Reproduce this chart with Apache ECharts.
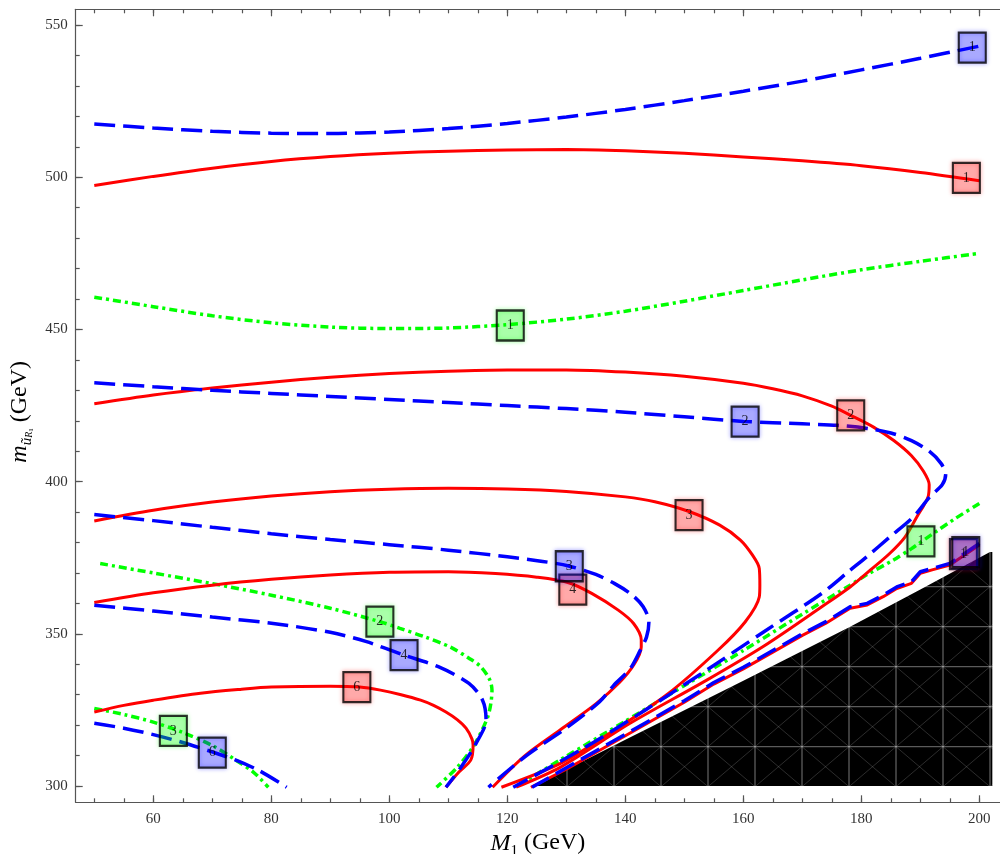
<!DOCTYPE html>
<html><head><meta charset="utf-8">
<script src="https://cdn.jsdelivr.net/npm/echarts@6/dist/echarts.min.js"></script>
<style>html,body{margin:0;padding:0;background:#fff}#c{width:1000px;height:854px}</style>
</head><body><div id="c"></div>
<script>
// ---- tick values ----
const xMajorTicks = [60, 80, 100, 120, 140, 160, 180, 200];
const xMinorTicks = [50, 55, 60, 65, 70, 75, 80, 85, 90, 95, 100, 105, 110, 115, 120, 125, 130, 135, 140, 145, 150, 155, 160, 165, 170, 175, 180, 185, 190, 195, 200];
const yMajorTicks = [300, 350, 400, 450, 500, 550];
const yMinorTicks = [300, 310, 320, 330, 340, 350, 360, 370, 380, 390, 400, 410, 420, 430, 440, 450, 460, 470, 480, 490, 500, 510, 520, 530, 540, 550];

// ---- red contours (solid) ----
const redLevel1 = [[50,497.3],[60,500.3],[70,503],[80,505.2],[90,506.8],[100,507.9],[110,508.6],[120,509],[130,509.1],[140,508.7],[150,507.9],[160,506.7],[170,505.4],[180,503.8],[190,501.6],[200,498.9]];
const redLevel2 = [[50,425.6],[60,428.5],[70,430.8],[80,432.7],[90,434.3],[100,435.5],[110,436.3],[120,436.7],[130,436.7],[140,436],[150,434.6],[160,432.3],[165,430.5],[170,428.2],[175,424.8],[178.2,421.8],[182,418],[185.5,413.5],[188.5,408.5],[190.5,403.5],[191.5,399],[191.3,395],[189.4,388.4],[187.4,381.8],[184.8,376.4],[181.5,370.9],[178.1,365.4],[173.3,358.9],[163.5,346],[153.8,334.8],[140.8,320.6],[129.1,306.3],[121.5,299.6]];
const redLevel3 = [[50,387.1],[60,390.6],[70,393.3],[80,395.3],[90,396.7],[100,397.5],[110,397.8],[120,397.6],[130,396.8],[140,395],[145,393.4],[150.8,390.2],[156,385.7],[159.5,380.8],[161.5,376],[162.7,371.5],[162.8,366],[162.7,362.1],[160.3,353.9],[155.7,344.6],[147.3,330.4],[138.2,318.4],[129.1,307.5],[119,299.6]];
const redLevel4 = [[50,360.3],[60,363.5],[70,366],[80,367.9],[90,369.3],[100,370.2],[110,370.4],[118,369.8],[125,368.6],[130.4,366.8],[134.3,363.3],[138.8,357.8],[141.4,353.4],[142.7,348],[142.7,345.7],[141.5,340],[139,334],[135,327],[129,318.5],[123,310],[117.5,299.6]];
const redLevel6 = [[50,324.3],[55,326.5],[60,328.2],[68,330.5],[75,331.8],[80,332.5],[90,332.8],[95,332.5],[98.5,331.5],[102,330],[105.3,328.2],[107.5,326.5],[109.6,324.3],[111.5,321.8],[113,319],[114,315.5],[114.2,313.4],[113.8,308.5],[111.8,304.6],[109.6,299.6]];
const redLevel1Low = [[200,379.2],[195,372.6],[192,371],[190,369.9],[188.5,366.6],[186,364.9],[183.7,362.2],[181,359.5],[178.1,358.4],[174,353.5],[170,349.5],[165,344],[160,338.5],[155,333.5],[150,327.5],[145,322],[140,316.5],[135,311],[130,305.5],[124,299.6]];

// ---- blue contours (dashed) ----
const blueLevel1 = [[50,517.5],[60,516.2],[70,515.1],[80,514.5],[90,514.4],[100,514.9],[110,516],[120,517.7],[130,519.8],[140,522.3],[150,525.2],[160,528.3],[170,531.6],[180,535.3],[190,539.1],[200,543.1]];
const blueLevel2 = [[50,432.5],[60,431.2],[70,430],[80,429],[90,428],[100,427],[110,426],[120,425],[130,424],[140,422.8],[150,421.3],[160,419.8],[170,419],[176,418.5],[181,417.5],[185,416],[188.5,413.5],[191.5,410],[193.5,406],[194.3,402.5],[193.7,399],[191.6,395],[188.8,388.4],[184.8,381.8],[180.9,375.3],[178.1,370.9],[173.3,363.3],[163.5,350.7],[153.8,338.1],[143.4,325],[133,312.5],[121,299.6]];
const blueLevel3 = [[50,389.2],[60,387.2],[70,385],[80,382.9],[90,381],[100,379.3],[110,377.5],[120,375.3],[126,373.8],[130.4,372.3],[135,369.5],[138.2,366.5],[141,363],[143,359],[144,354],[143.6,349],[142.5,344.5],[140.8,338.5],[138,333],[135.6,327.6],[129.8,318.8],[123.3,310.1],[116.8,299.6]];
const blueLevel4 = [[50,359.4],[60,357.5],[70,355.5],[80,353.5],[90,350.5],[96,347.5],[102.5,343],[108.3,339.2],[113.5,333.7],[115.8,328.2],[116.4,321.7],[114.7,314],[112.2,306.3],[109.6,299.6]];
const blueLevel6 = [[50,320.6],[55,319],[60,316.9],[65,314.3],[70,311.2],[74,308.5],[78,305],[82.6,299.6]];
const blueLevel1Low = [[200,379.7],[195,373.1],[192,371.5],[190,370.4],[188.5,367.1],[186,365.4],[183.7,362.7],[181,360],[178.1,358.9],[174,354],[170,350],[165,344.5],[160,339],[155,334],[150,328],[145,322.5],[140,317],[135,311.5],[130,306],[124.2,299.6]];

// ---- green contours (dash-dot) ----
const greenLevel1 = [[50,460.6],[60,457.5],[70,454.5],[80,452.2],[90,450.8],[100,450.3],[110,450.5],[120,451.6],[130,453.4],[140,456],[150,459.3],[160,462.8],[170,466.3],[180,469.6],[190,472.4],[200,475]];
const greenLevel1Low = [[200,392.8],[196,388],[192.2,383],[188.5,378],[185.4,374.2],[181,369.5],[178.1,366],[170,356.5],[160,344.5],[150,333],[140,321.3],[130,309.8],[121.3,299.6]];
const greenLevel2 = [[51,373.1],[60,370],[70,366.5],[80,362.7],[90,358.4],[98.4,354],[101.8,351.8],[106,349],[110.3,345.7],[113.5,342],[115.5,339.2],[117,335],[117.4,331.5],[117.2,327],[116.7,322.8],[115.5,317.5],[114.2,312.9],[111.6,306.3],[108,299.6]];
const greenLevel3 = [[50,325.5],[55,323.5],[60,321],[65,317.6],[70,313.3],[74,308.5],[77,304.5],[79.5,299.6]];

// ---- excluded region edge ----
const blackRegionEdge = [[124.5,300],[140,315.2],[160,334.6],[178.1,352.3],[190,364.6],[201.8,376.9],[202.2,376.9]];

// ---- contour labels [x, y, text] ----
const redLabels = [[197.8,499.8,'1'],[178.2,421.8,'2'],[150.8,389,'3'],[131.1,364.5,'4'],[94.5,332.5,'6'],[197.3,376.2,'1']];
const blueLabels = [[198.8,542.6,'1'],[160.3,419.7,'2'],[130.5,372.2,'3'],[102.5,343,'4'],[70,311,'6'],[197.7,376.8,'1']];
const greenLabels = [[120.5,451.3,'1'],[98.4,354,'2'],[63.4,318.1,'3'],[190.1,380.4,'1']];

// ---- build ----
const SERIF = 'Liberation Serif';
const styles = {
  red:   {color:'#ff0000', width:3, type:'solid'},
  blue:  {color:'#0000ff', width:3.5, type:[21,8]},
  green: {color:'#00ff00', width:3.5, type:[8,4,3,4]}
};
function contour(data, kind, smooth) {
  return {type:'line', data:data, symbol:'none', smooth: smooth === undefined ? 0.3 : smooth,
    lineStyle:{color:styles[kind].color, width:styles[kind].width, type:styles[kind].type, cap:'butt'},
    xAxisIndex:0, yAxisIndex:0, z:3, silent:true, animation:false};
}
function labelBoxes(data, fill, halo) {
  return {type:'scatter', data:data, symbol:'rect', symbolSize:[27,30], xAxisIndex:0, yAxisIndex:0, z:5, animation:false,
    itemStyle:{color:fill, borderColor:'#000', borderWidth:2.2, shadowColor:halo, shadowBlur:4},
    label:{show:true, position:'inside', formatter:(p)=>p.data[2], color:'#000', fontFamily:SERIF, fontSize:14}};
}

// mesh pattern for excluded region
const pat = document.createElement('canvas');
pat.width = 47; pat.height = 40;
const g = pat.getContext('2d');
g.fillStyle = '#000'; g.fillRect(0,0,47,40);
g.strokeStyle = 'rgba(255,255,255,0.22)'; g.lineWidth = 0.8;
for (const dx of [-47,0,47]) for (const dy of [-40,0,40]) {
  g.beginPath();
  g.moveTo(3+dx, 26.7+dy); g.lineTo(50+dx, 66.7+dy);
  g.moveTo(50+dx, 26.7+dy); g.lineTo(3+dx, 66.7+dy);
  g.moveTo(3+dx, -100); g.lineTo(3+dx, 100);
  g.moveTo(-100, 26.7+dy); g.lineTo(100, 26.7+dy);
  g.stroke();
}

const XMIN = 46.85, XMAX = 203.5, YMIN = 294.65, YMAX = 555.2;
const axisCol = '#555';
function xAx(pos, ticks, len, withLabels, withLine) {
  return {type:'value', min:XMIN, max:XMAX, position:pos, gridIndex:0,
    axisLine:{show:withLine, onZero:false, lineStyle:{color:axisCol, width:1.2}},
    axisTick:{show:true, inside:true, length:len, customValues:ticks, lineStyle:{color:axisCol, width:1.2}},
    axisLabel:{show:withLabels, customValues:xMajorTicks, color:'#333', fontFamily:SERIF, fontSize:15, margin:9},
    splitLine:{show:false}};
}
function yAx(pos, ticks, len, withLabels, withLine) {
  return {type:'value', min:YMIN, max:YMAX, position:pos, gridIndex:0,
    axisLine:{show:withLine, onZero:false, lineStyle:{color:axisCol, width:1.2}},
    axisTick:{show:true, inside:true, length:len, customValues:ticks, lineStyle:{color:axisCol, width:1.2}},
    axisLabel:{show:withLabels, customValues:yMajorTicks, color:'#333', fontFamily:SERIF, fontSize:15, margin:8},
    splitLine:{show:false}};
}
const xMain = xAx('bottom', xMajorTicks, 7, true, true);
xMain.name = '{i|M}{s|1}{n| (GeV)}';
xMain.nameLocation = 'middle';
xMain.nameGap = 24;
xMain.nameTextStyle = {color:'#000', rich:{
  i:{fontFamily:SERIF, fontStyle:'italic', fontSize:24, lineHeight:30, verticalAlign:'middle', color:'#000'},
  s:{fontFamily:SERIF, fontSize:15, lineHeight:17, verticalAlign:'bottom', color:'#000'},
  n:{fontFamily:SERIF, fontSize:24, lineHeight:30, verticalAlign:'middle', color:'#000'}}};
const yMain = yAx('left', yMajorTicks, 7, true, true);
yMain.name = '{i|m}{s|ũ}{ss|R}{sss|1}{n| (GeV)}';
yMain.nameLocation = 'middle';
yMain.nameGap = 28;
yMain.nameRotate = 90;
yMain.nameTextStyle = {color:'#000', padding:[0,12,0,0], rich:{
  i:{fontFamily:SERIF, fontStyle:'italic', fontSize:24, lineHeight:30, verticalAlign:'middle', color:'#000'},
  s:{fontFamily:SERIF, fontStyle:'italic', fontSize:15, lineHeight:18, verticalAlign:'bottom', color:'#000'},
  ss:{fontFamily:SERIF, fontStyle:'italic', fontSize:10, lineHeight:12, verticalAlign:'bottom', color:'#000'},
  sss:{fontFamily:SERIF, fontSize:7, lineHeight:8, verticalAlign:'bottom', color:'#000'},
  n:{fontFamily:SERIF, fontSize:24, lineHeight:30, verticalAlign:'middle', color:'#000'}}};

const chart = echarts.init(document.getElementById('c'), null, {renderer:'canvas'});
chart.setOption({
  animation:false,
  backgroundColor:'#fff',
  grid:{left:75.7, right:0, top:9.3, bottom:51.7, containLabel:false, outerBoundsMode:'none'},
  xAxis:[xMain, xAx('bottom', xMinorTicks, 4, false, false), xAx('top', xMajorTicks, 7, false, true), xAx('top', xMinorTicks, 4, false, false)],
  yAxis:[yMain, yAx('left', yMinorTicks, 4, false, false)],
  series:[
    {type:'line', data:blackRegionEdge, symbol:'none', xAxisIndex:0, yAxisIndex:0, z:1, silent:true,
      lineStyle:{width:0}, areaStyle:{origin:300, color:{image:pat, repeat:'repeat'}, opacity:1}},
    contour(greenLevel1, 'green'), contour(greenLevel1Low, 'green', 0.15), contour(greenLevel2, 'green'), contour(greenLevel3, 'green'),
    contour(redLevel1, 'red'), contour(redLevel2, 'red'), contour(redLevel3, 'red'), contour(redLevel4, 'red'), contour(redLevel6, 'red'), contour(redLevel1Low, 'red', 0),
    contour(blueLevel1, 'blue'), contour(blueLevel2, 'blue'), contour(blueLevel3, 'blue'), contour(blueLevel4, 'blue'), contour(blueLevel6, 'blue'), contour(blueLevel1Low, 'blue', 0),
    labelBoxes(greenLabels, 'rgba(0,255,0,0.3)', 'rgba(0,255,0,0.5)'),
    labelBoxes(redLabels, 'rgba(255,0,0,0.3)', 'rgba(255,0,0,0.5)'),
    labelBoxes(blueLabels, 'rgba(0,0,255,0.3)', 'rgba(0,0,255,0.5)')
  ]
});
</script></body></html>
